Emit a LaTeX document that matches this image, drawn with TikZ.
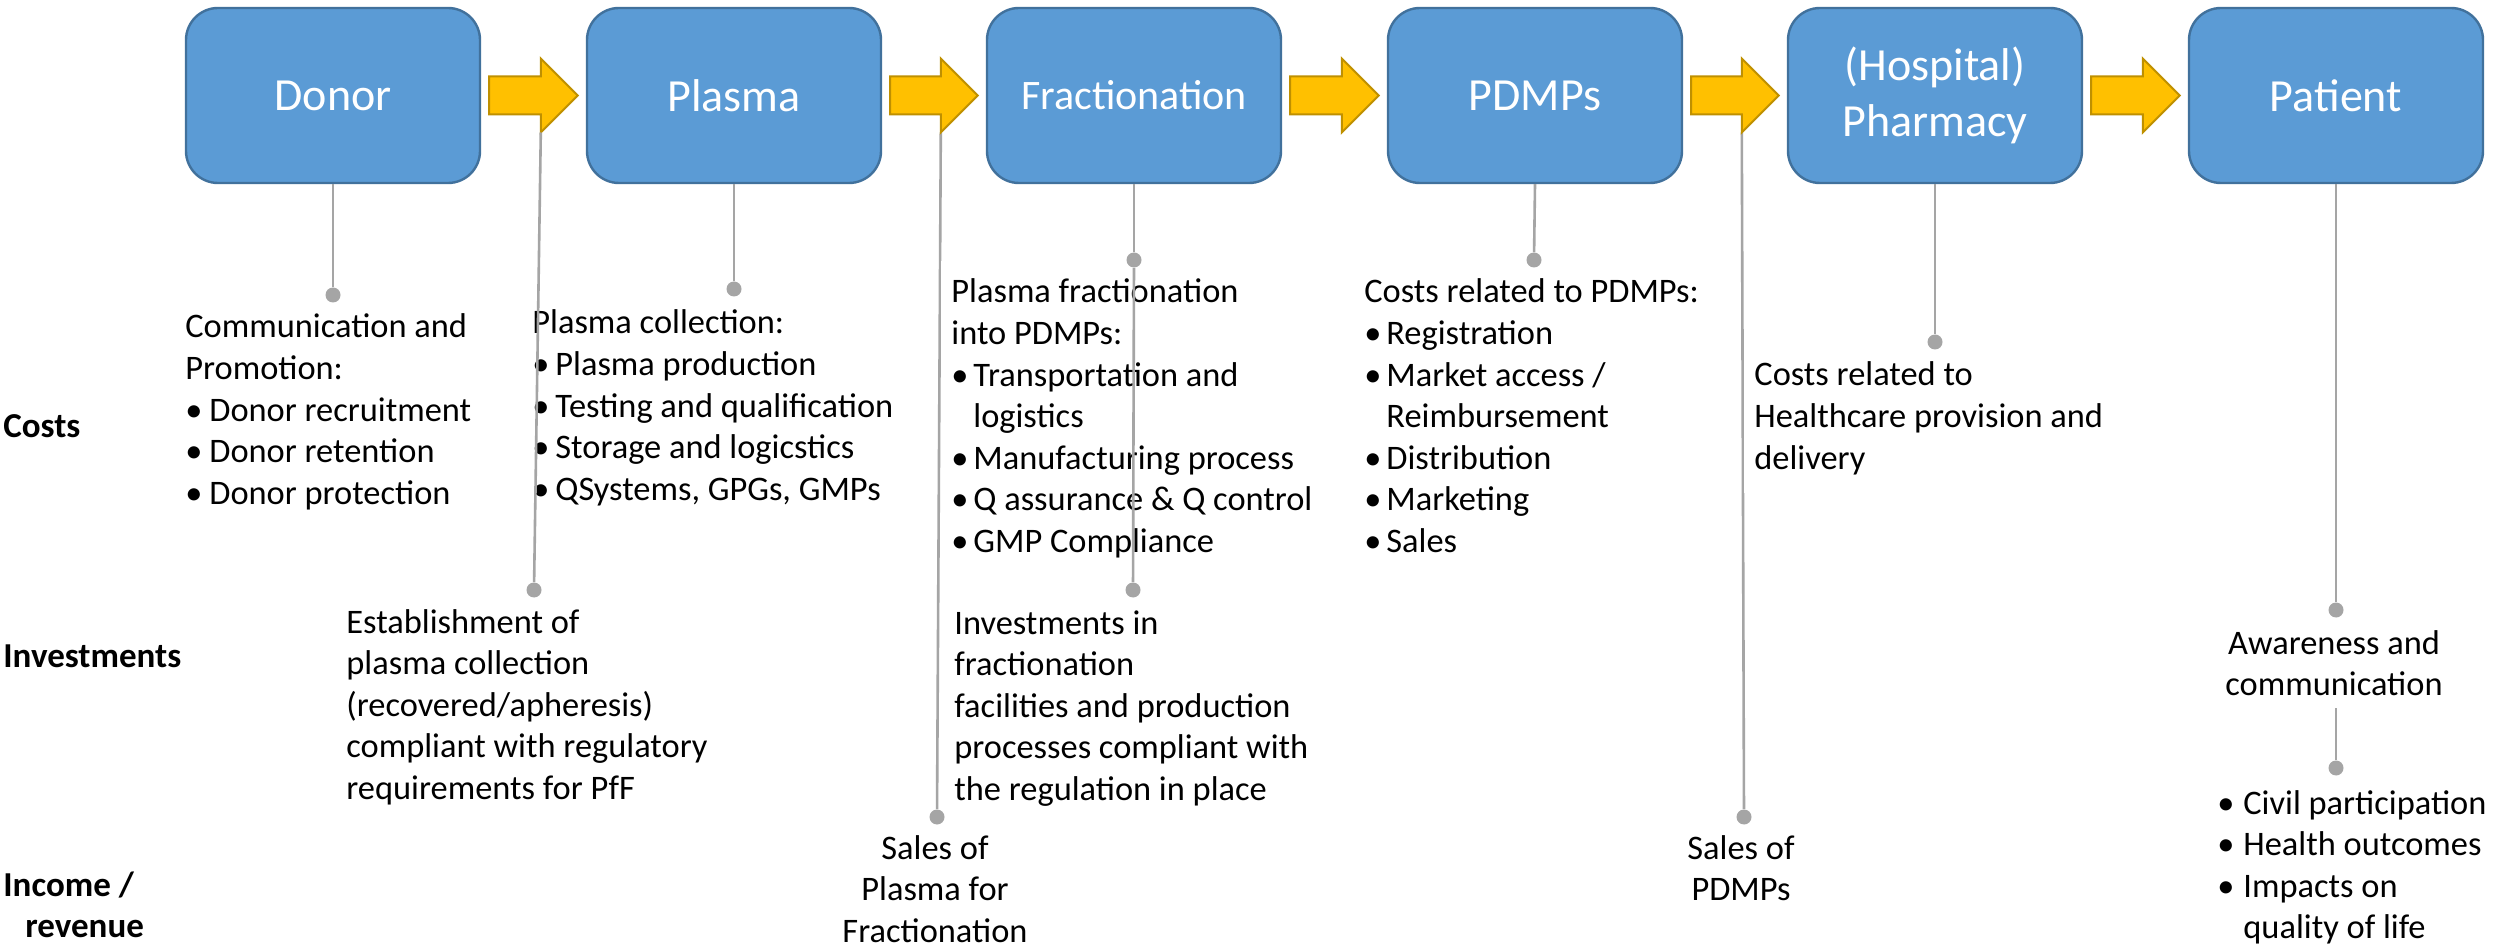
\documentclass[tikz,border=0pt]{standalone}
\usepackage{fontspec}
\setmainfont{Carlito}
\usetikzlibrary{calc}
\definecolor{boxblue}{HTML}{5B9BD5}
\definecolor{boxedge}{HTML}{41719C}
\definecolor{arrfill}{HTML}{FFC000}
\definecolor{arredge}{HTML}{BF9000}
\definecolor{conngray}{HTML}{A5A5A5}
\newcommand\bul[1][11.5pt]{\makebox[#1][l]{•}\ignorespaces}
\newcommand\hang[1][11.5pt]{\hspace*{#1}\ignorespaces}
\pgfdeclarelayer{bglayer}
\pgfdeclarelayer{behind}
\pgfsetlayers{bglayer,behind,main}
\newcommand\flowarrow[3]{%
  \draw[flow] ($(#1.east)+(8,-19)$) -- ($(#2.west)+(-45,-19)$) -- ($(#2.west)+(-45,-37)$) -- ($(#2.west)+(-8,0)$) -- ($(#2.west)+(-45,37)$) -- ($(#2.west)+(-45,19)$) -- ($(#1.east)+(8,19)$) -- cycle;
  \coordinate (#3) at ($(#2.west)+(-45,37)$);}
\begin{document}
\begin{tikzpicture}[x=0.5pt,y=-0.5pt,
  stage/.style={draw=boxedge, line width=1.2pt, fill=boxblue, rounded corners=16pt, minimum width=147pt, minimum height=87.5pt, inner sep=0pt, text=white, align=center, font=\fontsize{23pt}{28pt}\selectfont},
  flow/.style={draw=arredge, line width=1pt, fill=arrfill, line join=miter},
  conn/.style={draw=conngray, line width=1.3pt},
  dot/.style={circle, fill=conngray, inner sep=0pt, minimum size=7.5pt},
  body/.style={inner sep=0pt, align=left, font=\fontsize{17.2pt}{20.8pt}\selectfont, anchor=base west},
  bodyc/.style={body, align=center, anchor=base},
  whitebg/.style={fill=white, inner xsep=5pt, inner ysep=9pt},
  rowlabel/.style={inner sep=0pt, align=left, font=\bfseries\fontsize{17.5pt}{20.5pt}\selectfont, anchor=base west},
]
% note: the base anchor of a multi-line node is the baseline of its last line
\begin{pgfonlayer}{bglayer}
\fill[white] (0,0) rectangle (2507,946);
\end{pgfonlayer}
\useasboundingbox (0,0) rectangle (2507,946);

% stages
\node[stage] (donor) at (333,95.5) {Donor};
\node[stage] (plasma) at (734,95.5) {Plasma};
\node[stage, font=\fontsize{21pt}{26pt}\selectfont] (fract) at (1134,95.5) {Fractionation};
\node[stage] (pdmp) at (1535,95.5) {PDMPs};
\node[stage] (pharm) at (1935,95.5) {(Hospital)\\Pharmacy};
\node[stage] (patient) at (2336,95.5) {Patient};

% flow arrows
\flowarrow{donor}{plasma}{a1}
\flowarrow{plasma}{fract}{a2}
\flowarrow{fract}{pdmp}{a3}
\flowarrow{pdmp}{pharm}{a5}
\flowarrow{pharm}{patient}{a6}

% row labels
\node[rowlabel] (lc) at (3,438) {Costs};
\node[rowlabel] (li) at (3,667) {Investments};
\node[rowlabel] (lr) at (3,937) {Income /\\\hspace*{11pt}revenue};

% text blocks (positions = baseline of last line)
\node[body] (t1) at (185,504.4) {Communication and\\Promotion:\\\bul[12pt] Donor recruitment\\\bul[12pt] Donor retention\\\bul[12pt] Donor protection};
\node[body] (t2) at (532,500.4) {Plasma collection:\\\bul Plasma production\\\bul Testing and qualification\\\bul Storage and logicstics\\\bul QSystems, GPGs, GMPs};
\node[body, whitebg] (t3) at (941,552.6) {Plasma fractionation\\into PDMPs:\\\bul[11pt] Transportation and\\\hang[11pt] logistics\\\bul[11pt] Manufacturing process\\\bul[11pt] Q assurance \& Q control\\\bul[11pt] GMP Compliance};
\node[body] (t4) at (1364,552.6) {Costs related to PDMPs:\\\bul[11pt] Registration\\\bul[11pt] Market access /\\\hang[11pt] Reimbursement\\\bul[11pt] Distribution\\\bul[11pt] Marketing\\\bul[11pt] Sales};
\node[body, whitebg] (t5) at (1744,469.2) {Costs related to\\Healthcare provision and\\delivery};
\node[body] (t6) at (346,799.4) {Establishment of\\plasma collection\\(recovered/apheresis)\\compliant with regulatory\\requirements for PfF};
\node[body] (t7) at (954,800.4) {Investments in\\fractionation\\facilities and production\\processes compliant with\\the regulation in place};
\node[bodyc] (t8) at (935,942.2) {Sales of\\Plasma for\\Fractionation};
\node[bodyc] (t9) at (1741,900.6) {Sales of\\PDMPs};
\node[bodyc, fill=white, inner xsep=3pt, inner ysep=6pt] (t10) at (2334,695.6) {Awareness and\\communication};
\node[body] (t11) at (2217,938.8) {\bul[13pt] Civil participation\\\bul[13pt] Health outcomes\\\bul[13pt] Impacts on\\\hang[13pt] quality of life};

% dots
\node[dot] (c1) at (333,295) {};
\node[dot] (c2) at (734,289) {};
\node[dot] (i2) at (534,590) {};
\node[dot] (c3) at (1134,260) {};
\node[dot] (i3) at (1133,590) {};
\node[dot] (r3) at (937,817) {};
\node[dot] (c4) at (1534,260) {};
\node[dot] (c5) at (1935,342) {};
\node[dot] (r5) at (1744,817) {};
\node[dot] (c6) at (2336,610) {};
\node[dot] (r6) at (2336,768) {};

% visible connectors
\draw[conn] (donor.south) -- (c1);
\draw[conn] (plasma.south) -- (c2);
\draw[conn] (a1) -- (i2);
\draw[conn] (fract.south) -- (c3);
\draw[conn] (c3) -- (i3);
\draw[conn] (pdmp.south) -- (c4);
\draw[conn] (pharm.south) -- (c5);
\draw[conn] (patient.south) -- (c6);

% connectors partly hidden behind text boxes
\begin{pgfonlayer}{behind}
\draw[conn] (a2) -- (r3);
\draw[conn] (a5) -- (r5);
\draw[conn] (c6) -- (r6);
\end{pgfonlayer}
\end{tikzpicture}
\end{document}
